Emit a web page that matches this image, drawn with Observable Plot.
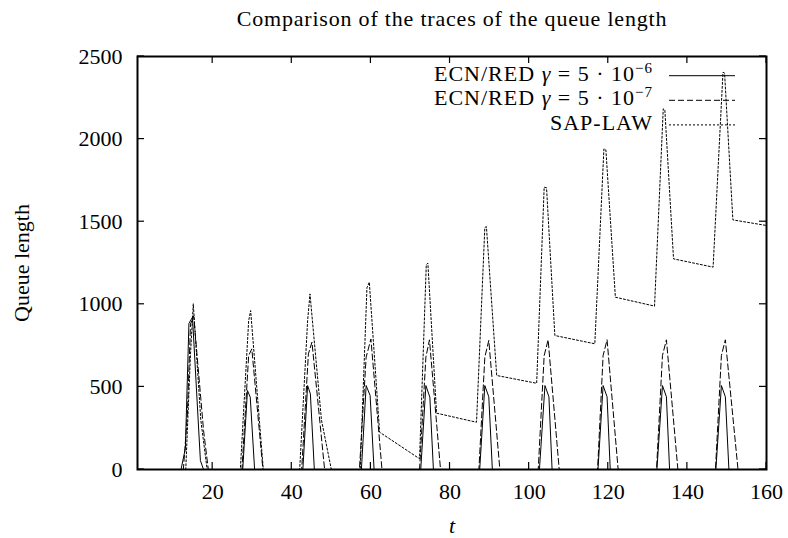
<!DOCTYPE html>
<html><head><meta charset="utf-8">
<script src="https://cdn.jsdelivr.net/npm/d3@7"></script>
<script src="https://cdn.jsdelivr.net/npm/@observablehq/plot@0.6"></script>
<style>body{margin:0;background:#fff;} svg{display:block;}</style>
</head><body><div id="chart"></div>
<script>
const title = "Comparison of the traces of the queue length";
const xLabel = "t";
const yLabel = "Queue length";
const xTicks = [20, 40, 60, 80, 100, 120, 140, 160];
const yTicks = [0, 500, 1000, 1500, 2000, 2500];
const seriesNames = ["ECN/RED γ = 5 · 10^−6", "ECN/RED γ = 5 · 10^−7", "SAP-LAW"];

// ECN/RED gamma = 5e-6 (solid)
const tRed6 = [1, 12.0, 13.1, 14.0, 14.9, 16.9, 17.7,
  27.6, 28.8, 29.5, 30.6,
  42.8, 44.0, 44.7, 45.7,
  57.6, 58.8, 59.8, 60.8,
  72.6, 73.9, 74.9, 75.8,
  87.5, 88.8, 89.8, 90.7,
  102.6, 104.0, 105.0, 105.8,
  117.4, 118.7, 119.7, 120.5,
  132.3, 133.7, 134.7, 135.5,
  147.2, 148.6, 149.6, 150.5,
  160];
const qRed6 = [0, 0, 127, 884, 922, 54, 0,
  0, 478, 438, 0,
  0, 508, 458, 0,
  0, 508, 448, 0,
  0, 508, 438, 0,
  0, 508, 440, 0,
  0, 508, 440, 0,
  0, 508, 440, 0,
  0, 508, 440, 0,
  0, 508, 440, 0,
  0];

// ECN/RED gamma = 5e-7 (dashed)
const tRed7 = [1, 12.6, 13.6, 14.4, 15.2, 17.7, 18.9,
  27.4, 29.1, 29.9, 32.7,
  42.5, 44.2, 45.1, 48.3,
  57.1, 58.8, 60.0, 62.8,
  72.3, 73.9, 74.8, 77.6,
  87.3, 88.8, 89.8, 92.6,
  102.3, 103.8, 104.8, 107.6,
  117.3, 118.7, 119.7, 122.5,
  132.2, 133.7, 134.7, 137.6,
  147.1, 148.6, 149.6, 152.8,
  160];
const qRed7 = [0, 0, 330, 880, 930, 236, 0,
  0, 690, 730, 0,
  0, 700, 771, 0,
  0, 680, 790, 0,
  0, 680, 785, 0,
  0, 680, 781, 0,
  0, 690, 785, 0,
  0, 690, 785, 0,
  0, 690, 785, 0,
  0, 690, 785, 0,
  0];

// SAP-LAW (dotted)
const tSap = [1, 13.2, 14.4, 15.1, 17.0, 18.6,
  27.0, 29.1, 29.6, 32.8,
  42.0, 44.0, 44.6, 47.5, 50.0,
  57.3, 59.0, 59.6, 62.2, 72.3,
  74.0, 74.4, 76.6, 86.7,
  88.8, 89.2, 91.8, 101.9,
  103.8, 104.4, 106.5, 116.6,
  118.9, 119.4, 121.8, 131.7,
  133.9, 134.3, 136.5, 146.5,
  149.0, 149.4, 151.5, 160];
const qSap = [0, 0, 700, 1003, 300, 0,
  0, 900, 962, 0,
  0, 900, 1063, 300, 0,
  0, 1100, 1134, 226, 65,
  1240, 1249, 341, 286,
  1465, 1470, 569, 522,
  1709, 1705, 811, 761,
  1941, 1935, 1043, 989,
  2183, 2178, 1275, 1225,
  2405, 2400, 1511, 1477];

const FONT = "'Liberation Serif', 'Times New Roman', serif";
const FS = 22;
const dashes = [null, "6,3", "2,2"];

const toRows = (ts, qs, s) => ts.map((t, i) => ({series: s, t, q: qs[i]}));
const rows = [
  toRows(tRed6, qRed6, seriesNames[0]),
  toRows(tRed7, qRed7, seriesNames[1]),
  toRows(tSap, qSap, seriesNames[2])
];

function innerTicks(index, scales, values, dims) {
  const g = d3.create("svg:g").attr("stroke", "#000").attr("stroke-width", 1.2);
  const L = dims.marginLeft, R = dims.width - dims.marginRight;
  const T = dims.marginTop, B = dims.height - dims.marginBottom;
  const len = 7;
  for (const v of xTicks) {
    const x = scales.x(v);
    g.append("line").attr("x1", x).attr("x2", x).attr("y1", B).attr("y2", B - len);
    g.append("line").attr("x1", x).attr("x2", x).attr("y1", T).attr("y2", T + len);
  }
  for (const v of yTicks) {
    const y = scales.y(v);
    g.append("line").attr("x1", L).attr("x2", L + len).attr("y1", y).attr("y2", y);
    g.append("line").attr("x1", R).attr("x2", R - len).attr("y1", y).attr("y2", y);
  }
  return g.node();
}

function legend(index, scales, values, dims) {
  const g = d3.create("svg:g").attr("font-family", FONT).attr("font-size", FS).attr("letter-spacing", "1px");
  const R = dims.width - dims.marginRight, T = dims.marginTop;
  seriesNames.forEach((name, i) => {
    const ly = T + 19.7 + i * 24.6;
    const ln = g.append("line").attr("x1", R - 97).attr("x2", R - 31)
      .attr("y1", ly).attr("y2", ly).attr("stroke", "#000").attr("stroke-width", 1);
    if (dashes[i]) ln.attr("stroke-dasharray", dashes[i]);
    const t = g.append("text").attr("x", R - 113).attr("y", ly + 5).attr("text-anchor", "end").attr("fill", "#000");
    const [base, sup] = name.split("^");
    const parts = base.split("γ");
    parts.forEach((p, j) => {
      if (j > 0) t.append("tspan").attr("font-style", "italic").text("γ");
      t.append("tspan").text(p);
    });
    if (sup) t.append("tspan").attr("dy", -8).attr("font-size", 15).text(sup);
  });
  return g.node();
}

const chart = Plot.plot({
  width: 788,
  height: 538,
  marginLeft: 137,
  marginRight: 22,
  marginTop: 56,
  marginBottom: 69,
  style: {fontFamily: FONT, fontSize: FS + "px", background: "#fff", color: "#000"},
  x: {domain: [1, 160], axis: null},
  y: {domain: [0, 2500], axis: null},
  marks: [
    Plot.line(rows[0], {x: "t", y: "q", stroke: "#000", strokeWidth: 1}),
    Plot.line(rows[1], {x: "t", y: "q", stroke: "#000", strokeWidth: 1, strokeDasharray: dashes[1]}),
    Plot.line(rows[2], {x: "t", y: "q", stroke: "#000", strokeWidth: 1, strokeDasharray: dashes[2]}),
    Plot.frame({stroke: "#000", strokeWidth: 2}),
    innerTicks,
    Plot.text(xTicks, {x: d => d, frameAnchor: "bottom", dy: 29, lineAnchor: "bottom", textAnchor: "middle", text: d => String(d), fontSize: FS, fill: "#000"}),
    Plot.text(yTicks, {y: d => d, frameAnchor: "left", dx: -15, textAnchor: "end", lineAnchor: "middle", text: d => String(d), fontSize: FS, fill: "#000"}),
    Plot.text([xLabel], {frameAnchor: "bottom", dy: 63, lineAnchor: "bottom", textAnchor: "middle", fontStyle: "italic", fontSize: FS, fill: "#000"}),
    Plot.text([yLabel], {frameAnchor: "left", dx: -116, rotate: -90, lineAnchor: "middle", textAnchor: "middle", fontSize: FS, fill: "#000"}),
    Plot.text([title], {frameAnchor: "top", dy: -31, lineAnchor: "bottom", textAnchor: "middle", fontSize: FS, fill: "#000", style: {letterSpacing: "0.8px"}}),
    legend
  ]
});
chart.querySelectorAll("text").forEach(el => {
  if (el.textContent === title) el.setAttribute("letter-spacing", "0.8px");
});
document.getElementById("chart").appendChild(chart);
</script>
</body></html>
